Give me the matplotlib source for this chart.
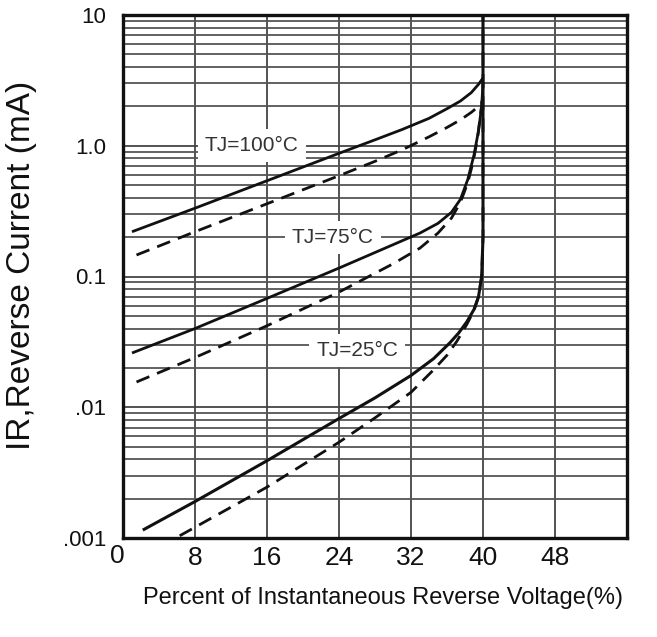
import matplotlib
matplotlib.use('Agg')
import matplotlib.pyplot as plt
from matplotlib.ticker import LogLocator, NullFormatter, FixedLocator, FixedFormatter
from matplotlib.transforms import ScaledTranslation

plt.rcParams['font.family'] = ['Liberation Sans', 'DejaVu Sans']

# ---- data ----
x_ticks = [0, 8, 16, 24, 32, 40, 48]
x_tick_labels = ['0', '8', '16', '24', '32', '40', '48']
y_ticks = [0.001, 0.01, 0.1, 1.0, 10.0]
y_tick_labels = ['.001', '.01', '0.1', '1.0', '10']

x_100_solid = [1, 8, 16, 24, 28, 31, 34, 36, 37.5, 38.7, 39.5, 40]
y_100_solid = [0.22, 0.333, 0.54, 0.875, 1.11, 1.33, 1.62, 1.92, 2.2, 2.55, 2.95, 3.3]
x_100_dash = [1.5, 8, 16, 24, 28, 31, 34, 36, 37.5, 38.7, 39.5, 40]
y_100_dash = [0.146, 0.22, 0.36, 0.59, 0.76, 0.93, 1.17, 1.38, 1.58, 1.8, 2.0, 2.2]

x_75_solid = [1, 8, 16, 24, 30, 33, 35, 36.5, 37.5, 38.3, 39, 39.5, 39.85, 40]
y_75_solid = [0.026, 0.04, 0.068, 0.116, 0.175, 0.215, 0.255, 0.31, 0.39, 0.55, 0.85, 1.3, 2.0, 3.0]
x_75_dash = [1.5, 8, 16, 24, 30, 33, 35, 36.5, 37.5, 38.3, 38.9, 39.4, 39.75, 40]
y_75_dash = [0.0156, 0.024, 0.042, 0.076, 0.125, 0.165, 0.215, 0.28, 0.37, 0.52, 0.75, 1.15, 1.8, 2.5]

x_25_solid = [2.2, 8, 16, 24, 28, 32, 34.5, 36.3, 37.3, 38.2, 39, 39.5, 39.85, 40, 40]
y_25_solid = [0.00115, 0.0019, 0.0039, 0.0082, 0.0118, 0.0175, 0.0235, 0.031, 0.037,
              0.045, 0.056, 0.07, 0.1, 0.2, 10]
x_25_dash = [6.3, 16, 24, 28, 32, 34.4, 36, 37.1, 38.2, 39, 39.5, 39.85, 40, 40]
y_25_dash = [0.00104, 0.00245, 0.0054, 0.0083, 0.013, 0.019, 0.025, 0.032, 0.043,
             0.055, 0.07, 0.1, 0.2, 10]

labels = ['TJ=100°C', 'TJ=75°C', 'TJ=25°C']
label_x = [14.3, 23.3, 26.0]
label_y = [1.0, 0.2, 0.027]

# ---- figure ----
fig = plt.figure(figsize=(6.57, 6.37), dpi=100)
ax = fig.add_axes([123/657, 1-538/637, (627-123)/657, (538-15)/637])
ax.set_yscale('log')
ax.set_xlim(0, 56)
ax.set_ylim(0.001, 10)

ax.xaxis.set_major_locator(FixedLocator(x_ticks))
ax.xaxis.set_major_formatter(FixedFormatter(x_tick_labels))
ax.yaxis.set_major_locator(FixedLocator(y_ticks))
ax.yaxis.set_major_formatter(FixedFormatter(y_tick_labels))
ax.yaxis.set_minor_locator(LogLocator(base=10, subs=range(2, 10), numticks=20))
ax.yaxis.set_minor_formatter(NullFormatter())

ax.set_axisbelow(True)
ax.grid(which='major', axis='both', color='#444444', lw=1.3)
ax.grid(which='minor', axis='y', color='#555555', lw=1.3)
ax.tick_params(which='both', length=0)
ax.tick_params(axis='x', labelsize=19, pad=6, colors='#111111')
ax.tick_params(axis='y', labelsize=16, pad=12, colors='#111111')

for sp in ax.spines.values():
    sp.set_linewidth(2.4)
    sp.set_color('#111111')

kw = dict(color='#111111', lw=2.0, zorder=4, solid_capstyle='butt')
ax.plot(x_100_solid, y_100_solid, **kw)
ax.plot(x_100_dash, y_100_dash, dashes=(5, 3), **kw)
ax.plot(x_75_solid, y_75_solid, **kw)
ax.plot(x_75_dash, y_75_dash, dashes=(5, 3), **kw)
ax.plot(x_25_solid, y_25_solid, **dict(kw, lw=2.2))
ax.plot(x_25_dash, y_25_dash, dashes=(5, 3), **kw)

for s, lx, ly in zip(labels, label_x, label_y):
    ax.text(lx, ly, s, ha='center', va='center', fontsize=15, color='#333333',
            zorder=3, bbox=dict(facecolor='white', edgecolor='none', pad=5))

# nudge the "0" label a bit left
lab0 = ax.get_xticklabels()[0]
lab0.set_transform(lab0.get_transform() + ScaledTranslation(-4/72, 2/72, fig.dpi_scale_trans))

fig.text(22/657, 1-265/637, 'IR,Reverse Current (mA)', rotation=90,
         ha='center', va='center', fontsize=24, color='#111111')
fig.text(383/657, 1-598/637, 'Percent of Instantaneous Reverse Voltage(%)',
         ha='center', va='center', fontsize=17, color='#111111')

fig.savefig('out.png', dpi=100)
